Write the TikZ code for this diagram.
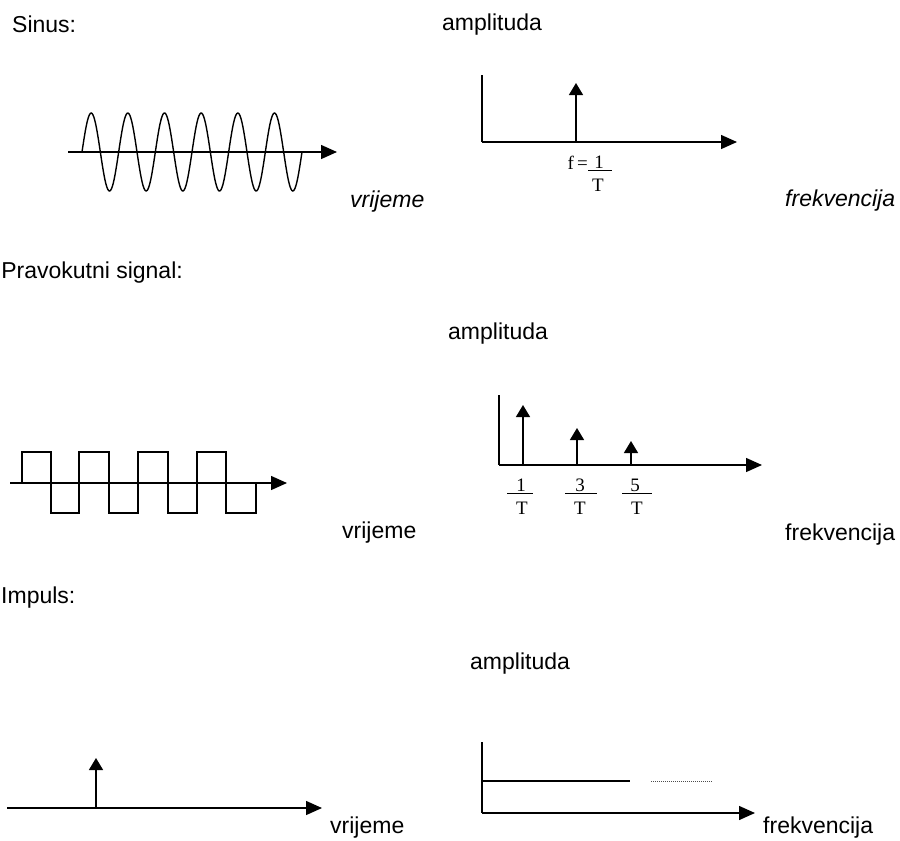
\documentclass[tikz,border=0pt]{standalone}
\usepackage{fontspec}
\setmainfont{Liberation Sans}
\newfontfamily\serf{Liberation Serif}
\usetikzlibrary{arrows.meta}
\begin{document}
\begin{tikzpicture}[x=1pt,y=-1pt,
  lbl/.style={font=\fontsize{23}{27}\selectfont, anchor=base west, inner sep=0pt},
  axisline/.style={line width=1.4pt, -{Triangle[length=16pt,width=14pt]}},
  spike/.style={line width=1.4pt, -{Triangle[length=12pt,width=14pt]}},
  plain/.style={line width=1.4pt},
  fracnum/.style={font=\serf\fontsize{19}{22}\selectfont, anchor=base, inner sep=0pt},
  fracbar/.style={line width=1pt},
  dots/.style={line width=1pt, black!70, dash pattern=on 1pt off 1pt},
]
\useasboundingbox (0,0) rectangle (900,841);

% ---------- labels ----------
\node[lbl] (sinus) at (12,32) {Sinus:};
\node[lbl] (amp1) at (442,30) {amplituda};
\node[lbl] (vr1) at (350,207) {\itshape vrijeme};
\node[lbl] (fr1) at (785,206) {\itshape frekvencija};
\node[lbl, anchor=base east] (prav) at (183,278) {Pravokutni signal:};
\node[lbl] (amp2) at (448,339) {amplituda};
\node[lbl] (vr2) at (342,538) {vrijeme};
\node[lbl] (fr2) at (785,540) {frekvencija};
\node[lbl] (imp) at (1,603) {Impuls:};
\node[lbl] (amp3) at (470,669) {amplituda};
\node[lbl] (vr3) at (330,833) {vrijeme};
\node[lbl] (fr3) at (763,833) {frekvencija};

% ---------- sine ----------
\coordinate (sa0) at (68,152);
\coordinate (sa1) at (337,152);
\draw[axisline] (sa0) -- (sa1);
\draw[plain] plot[smooth, domain=0:220, samples=240] ({82+\x},{152-39*sin(9.8182*\x)});

% ---------- spectrum 1 ----------
\coordinate (o1) at (482,142);
\coordinate (y1) at (482,75);
\coordinate (x1) at (737,142);
\draw[plain] (y1) -- (o1);
\draw[axisline] (o1) -- (x1);
\coordinate (p1b) at (576,142);
\coordinate (p1t) at (576,83);
\draw[spike] (p1b) -- (p1t);
\node[fracnum, anchor=base east] (feq) at (588,169) {f\,=};
\node[fracnum] (n1) at (599,168) {1};
\node[fracnum] (d1) at (598,191) {T};
\coordinate (fb1a) at (588,170);
\coordinate (fb1b) at (612,170);
\draw[fracbar] (fb1a) -- (fb1b);

% ---------- square wave ----------
\coordinate (qa0) at (10,483);
\coordinate (qa1) at (287,483);
\draw[axisline] (qa0) -- (qa1);
\draw[plain] (22,483) -- (22,452) -- (51,452) -- (51,513) -- (79,513) -- (79,452)
  -- (109,452) -- (109,513) -- (138,513) -- (138,452) -- (168,452) -- (168,513)
  -- (197,513) -- (197,452) -- (226,452) -- (226,513) -- (256,513) -- (256,483);

% ---------- spectrum 2 ----------
\coordinate (o2) at (499,465);
\coordinate (y2) at (499,395);
\coordinate (x2) at (762,465);
\draw[plain] (y2) -- (o2);
\draw[axisline] (o2) -- (x2);
\coordinate (h1b) at (523,465); \coordinate (h1t) at (523,405);
\coordinate (h3b) at (577,465); \coordinate (h3t) at (577,428);
\coordinate (h5b) at (631,465); \coordinate (h5t) at (631,441);
\draw[spike] (h1b) -- (h1t);
\draw[spike] (h3b) -- (h3t);
\draw[spike] (h5b) -- (h5t);
\node[fracnum] (n21) at (521,491) {1};
\node[fracnum] (d21) at (522,514) {T};
\node[fracnum] (n23) at (580,491) {3};
\node[fracnum] (d23) at (580,514) {T};
\node[fracnum] (n25) at (635,491) {5};
\node[fracnum] (d25) at (637,514) {T};
\coordinate (b1a) at (507,493); \coordinate (b1b) at (533,493);
\coordinate (b3a) at (565,493); \coordinate (b3b) at (597,493);
\coordinate (b5a) at (622,493); \coordinate (b5b) at (652,493);
\draw[fracbar] (b1a) -- (b1b);
\draw[fracbar] (b3a) -- (b3b);
\draw[fracbar] (b5a) -- (b5b);

% ---------- impulse ----------
\coordinate (ia0) at (7,808);
\coordinate (ia1) at (322,808);
\draw[axisline] (ia0) -- (ia1);
\coordinate (ib) at (96,808);
\coordinate (it) at (96,758);
\draw[spike] (ib) -- (it);

% ---------- spectrum 3 ----------
\coordinate (o3) at (482,813);
\coordinate (y3) at (482,742);
\coordinate (x3) at (755,813);
\draw[plain] (y3) -- (o3);
\draw[axisline] (o3) -- (x3);
\coordinate (fl0) at (482,781);
\coordinate (fl1) at (630,781);
\draw[plain] (fl0) -- (fl1);
\coordinate (dl0) at (651,781);
\coordinate (dl1) at (713,781);
\draw[dots] (dl0) -- (dl1);
\end{tikzpicture}
\end{document}
